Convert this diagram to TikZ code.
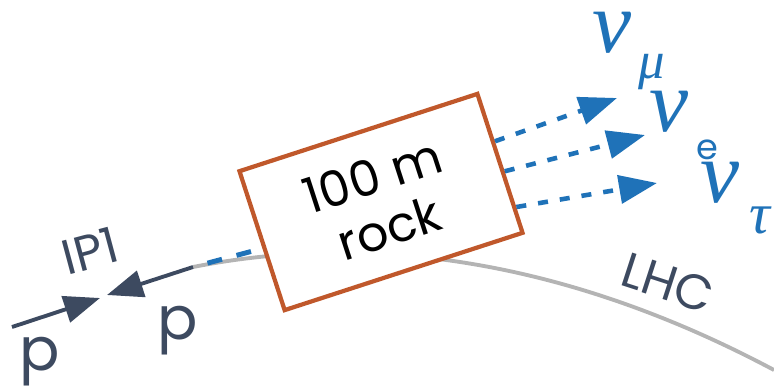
\documentclass[tikz,border=0pt]{standalone}
\usepackage{fontspec}
\setmainfont{Poppins}
\newfontfamily\nufont{Liberation Serif}
\usepackage{tikz}
\usetikzlibrary{positioning,arrows.meta,calc}
\definecolor{beamslate}{RGB}{61,74,96}
\definecolor{rockbrown}{RGB}{192,88,43}
\definecolor{nublue}{RGB}{31,114,184}
\definecolor{ringgray}{RGB}{180,180,180}

\begin{document}
\begin{tikzpicture}[
  x=0.01cm, y=-0.01cm,
  every node/.style={inner sep=0pt},
  beam/.style={draw=beamslate, line width=1.1pt, -{Triangle[length=3.6mm, width=2.7mm]}},
  nuflow/.style={draw=nublue, line width=1.3pt, dash pattern=on 1mm off 1.2mm,
                 -{Triangle[length=3.8mm, width=2.8mm]}},
  beamtext/.style={text=beamslate, font=\fontsize{14}{16}\selectfont},
  nusym/.style={text=nublue, font=\nufont\itshape\fontsize{25}{27}\selectfont},
  nusub/.style={text=nublue, font=\nufont\itshape\fontsize{15}{17}\selectfont}
]
\useasboundingbox (0,0) rectangle (774,391);

\coordinate (beamL) at (12,327);
\coordinate (ipL) at (100,298);
\coordinate (ipR) at (107,295);
\coordinate (beamR) at (193,267);
\coordinate (ringend) at (774,370);
\coordinate (tipmu) at (617,98);
\coordinate (tipe) at (645,135);
\coordinate (tiptau) at (657,183);

\draw[ringgray, line width=1.1pt] (beamR) .. controls (330,240) and (530,240) .. (ringend);

\node[draw=rockbrown, line width=1.2pt, fill=white, rotate=18,
      minimum width=2.5cm, minimum height=1.46cm, align=center,
      font=\fontsize{14}{15.5}\selectfont] (rock) at (381,202) {100 m\\rock};

\draw[beam] (beamL) -- (ipL);
\draw[beam] (beamR) -- (ipR);
\draw[draw=nublue, line width=1.4pt, dash pattern=on 1.5mm off 1.5mm, dash phase=1.5mm]
  (beamR) -- ($(rock.north west)!0.55!(rock.south west)$);

\foreach \f/\t in {0.35/tipmu, 0.56/tipe, 0.81/tiptau}
  \draw[nuflow] ($(rock.north east)!\f!(rock.south east)$) -- (\t);

\node[beamtext, rotate=15] (iplabel) at (90,251) {IP1};
\node[beamtext, font=\fontsize{17}{19}\selectfont] (pleft) at (40,362) {p};
\node[beamtext, font=\fontsize{17}{19}\selectfont] (pright) at (178,331) {p};
\node[beamtext, rotate=-18] (lhclabel) at (668,283) {LHC};

\node[nusym] (numu) at (612,33) {ν};
\node[nusub] (submu) at (652,72) {μ};
\node[nusym] (nue) at (669,112) {ν};
\node[beamtext, text=nublue, font=\fontsize{10}{12}\selectfont] (sube) at (707,150) {e};
\node[nusym] (nutau) at (720,183) {ν};
\node[nusub, font=\nufont\itshape\fontsize{16.5}{18}\selectfont] (subtau) at (760,220) {τ};
\end{tikzpicture}
\end{document}
